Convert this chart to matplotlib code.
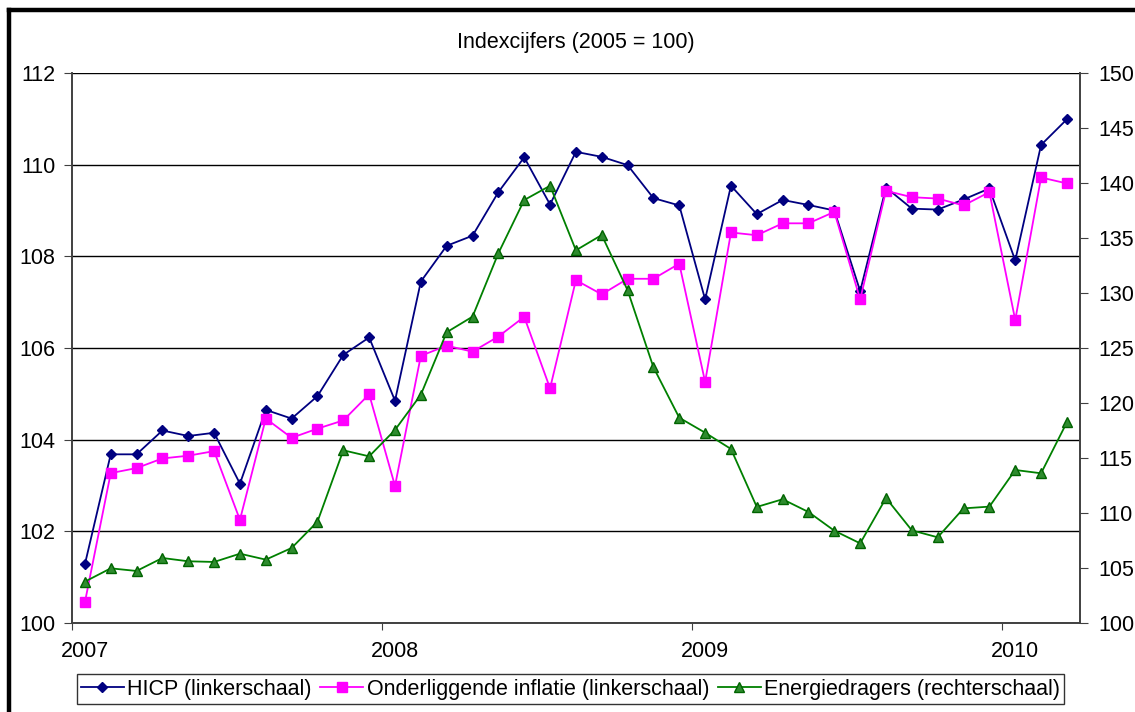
import matplotlib
matplotlib.use("Agg")
import matplotlib.pyplot as plt
from matplotlib.lines import Line2D

# Monthly index values (2005 = 100), Jan 2007 - Mar 2010
hicp = [101.28, 103.68, 103.68, 104.20, 104.08, 104.15, 103.04, 104.65, 104.46, 104.95,
        105.85, 106.23, 104.85, 107.45, 108.23, 108.45, 109.40, 110.16, 109.13, 110.28,
        110.17, 109.99, 109.27, 109.11, 107.06, 109.54, 108.92, 109.23, 109.12, 109.00,
        107.24, 109.50, 109.04, 109.02, 109.24, 109.48, 107.91, 110.43, 110.99]
onderliggend = [100.45, 103.27, 103.38, 103.59, 103.65, 103.75, 102.25, 104.46, 104.04, 104.24,
                104.42, 104.99, 102.99, 105.83, 106.05, 105.92, 106.25, 106.68, 105.12, 107.48,
                107.17, 107.51, 107.51, 107.84, 105.26, 108.52, 108.46, 108.72, 108.72, 108.97,
                107.06, 109.43, 109.29, 109.26, 109.11, 109.40, 106.61, 109.72, 109.59]
energie = [103.76, 104.97, 104.73, 105.91, 105.61, 105.55, 106.30, 105.76, 106.82, 109.21,
           115.70, 115.15, 117.55, 120.75, 126.43, 127.85, 133.61, 138.45, 139.75, 133.88,
           135.27, 130.25, 123.25, 118.66, 117.30, 115.82, 110.55, 111.25, 110.09, 108.39,
           107.24, 111.36, 108.42, 107.79, 110.42, 110.58, 113.91, 113.61, 118.25]
years = ["2007", "2008", "2009", "2010"]
labels = ["HICP (linkerschaal)", "Onderliggende inflatie (linkerschaal)",
          "Energiedragers (rechterschaal)"]
title = "Indexcijfers (2005 = 100)"

plt.rcParams['font.family'] = ['Liberation Sans', 'DejaVu Sans']

fig = plt.figure(figsize=(11.35, 7.12), dpi=100)
ax = fig.add_axes([0.0634, 0.125, 0.888, 0.7725])
ax2 = ax.twinx()

x = [i + 0.5 for i in range(len(hicp))]

l1, = ax.plot(x, hicp, color='#000080', lw=1.3, marker='D', ms=5.5,
              mfc='#000080', mec='#000080')
l2, = ax.plot(x, onderliggend, color='#FF00FF', lw=1.3, marker='s', ms=7,
              mfc='#FF00FF', mec='#FF00FF')
l3, = ax2.plot(x, energie, color='#008000', lw=1.3, marker='^', ms=7.5,
               mfc='#2E8B2E', mec='#006400')

ax.set_xlim(0, 39)
ax.set_ylim(100, 112)
ax.set_yticks(range(100, 113, 2))
ax2.set_ylim(100, 150)
ax2.set_yticks(range(100, 151, 5))

ax.set_axisbelow(True)
ax.yaxis.grid(True, color='#000000', lw=1.0)

# year ticks at year boundaries, labels centred on January
ax.set_xticks([0, 12, 24, 36])
ax.set_xticklabels([])
ax.set_xticks([0.5, 12.5, 24.5, 36.5], minor=True)
ax.set_xticklabels(years, minor=True)
ax.tick_params(axis='x', which='minor', length=0, pad=13, labelsize=15.5)
ax.tick_params(axis='x', which='major', length=5, direction='out', color='#404040')
ax.tick_params(axis='y', length=6, direction='out', color='#404040', labelsize=15.5, pad=6)
ax2.tick_params(axis='y', length=6, direction='out', color='#404040', labelsize=15.5, pad=7)

for a in (ax, ax2):
    a.spines['top'].set_visible(False)
    for s in ('left', 'right', 'bottom'):
        a.spines[s].set_color('#404040')
        a.spines[s].set_linewidth(1.2)

fig.text(0.5075, 0.941, title, ha='center', va='center', fontsize=15.5)

leg = fig.legend([l1, l2, l3], labels, loc='center', bbox_to_anchor=(0.5026, 0.0323),
                 ncol=3, fontsize=15.5, frameon=True, fancybox=False, edgecolor='#000000',
                 handlelength=2.0, handletextpad=0.15, columnspacing=0.4, borderpad=0.2,
                 borderaxespad=0)
leg.get_frame().set_linewidth(1.0)

# outer frame (only top and left edge visible)
fig.add_artist(Line2D([0.0079, 0.0079], [0.0, 0.9855], transform=fig.transFigure,
                      color='black', lw=3.2))
fig.add_artist(Line2D([0.0079, 1.0], [0.9855, 0.9855], transform=fig.transFigure,
                      color='black', lw=3.2))

fig.savefig('out.png', dpi=100, facecolor='white')
